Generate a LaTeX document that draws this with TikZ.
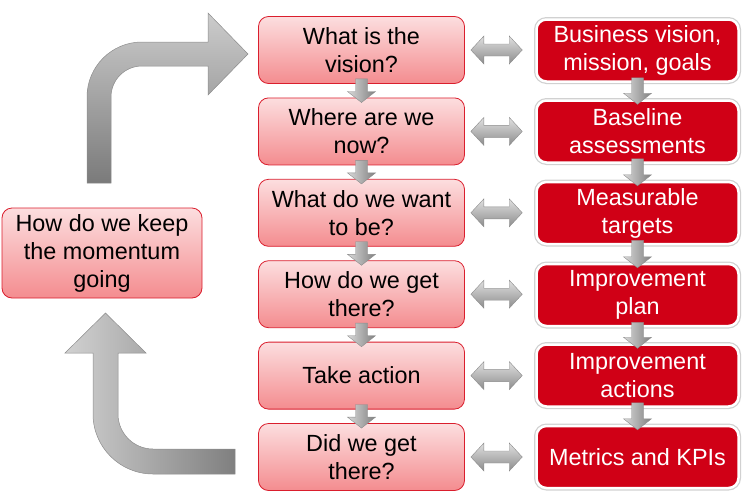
\documentclass[tikz,border=0pt]{standalone}
\usepackage{fontspec}
\setmainfont{Liberation Sans}
\usetikzlibrary{calc}
\definecolor{pinktop}{RGB}{252,222,223}
\definecolor{pinkbot}{RGB}{244,140,143}
\definecolor{pinkborder}{RGB}{218,30,45}
\definecolor{redfill}{RGB}{208,0,22}
\newcommand{\boxfont}{\fontsize{23.4}{28}\selectfont}
\tikzset{
  pinkbox/.style={rectangle, rounded corners=10pt, draw=pinkborder, line width=0.8pt,
    top color=pinktop, bottom color=pinkbot, minimum width=206pt, minimum height=67pt,
    align=center, inner sep=2pt, font=\boxfont, text=black},
  redbox/.style={rectangle, rounded corners=10pt, fill=redfill, draw=white, line width=2.5pt,
    preaction={draw=black!18, line width=5pt}, text=white, minimum width=202pt,
    minimum height=62pt, align=center, inner sep=2pt, font=\boxfont},
  vconnstyle/.style={left color=black!15, right color=black!50, draw=black!45, line width=0.4pt},
  hconnstyle/.style={top color=black!12, bottom color=black!45, draw=black!45, line width=0.4pt},
  bigarrowv/.style={top color=black!20, bottom color=black!52, draw=black!45, line width=0.5pt},
  bigarrowh/.style={left color=black!18, right color=black!50, draw=black!45, line width=0.5pt}
}
\newcommand{\vconn}[2]{%
  \path[vconnstyle] let \p1=($(#1.south)+(0,-5)$), \p2=($(#2.north)+(0,5)$) in
    (\x1-6pt,\y1) -- (\x1+6pt,\y1) -- (\x1+6pt,\y2+11pt) -- (\x1+14pt,\y2+11pt)
    -- (\x1,\y2) -- (\x1-14pt,\y2+11pt) -- (\x1-6pt,\y2+11pt) -- cycle;}
\newcommand{\hconn}[2]{%
  \path[hconnstyle] let \p1=($(#1.east)+(6,0)$), \p2=($(#2.west)+(-13,0)$) in
    (\x1,\y1) -- (\x1+13pt,\y1+14pt) -- (\x1+13pt,\y1+6pt) -- (\x2-13pt,\y1+6pt)
    -- (\x2-13pt,\y1+14pt) -- (\x2,\y1) -- (\x2-13pt,\y1-14pt) -- (\x2-13pt,\y1-6pt)
    -- (\x1+13pt,\y1-6pt) -- (\x1+13pt,\y1-14pt) -- cycle;}
\begin{document}
\begin{tikzpicture}[x=1pt,y=-1pt]
\useasboundingbox (0,0) rectangle (746,498);
% left question boxes
\node[pinkbox] (q1) at (361.5,50) {What is the\\vision?};
\node[pinkbox] (q2) at (361.5,131.4) {Where are we\\now?};
\node[pinkbox] (q3) at (361.5,212.8) {What do we want\\to be?};
\node[pinkbox] (q4) at (361.5,294.2) {How do we get\\there?};
\node[pinkbox] (q5) at (361.5,375.6) {Take action};
\node[pinkbox] (q6) at (361.5,457) {Did we get\\there?};
% right answer boxes
\node[redbox] (r1) at (637.5,50.5) {Business vision,\\mission, goals};
\node[redbox] (r2) at (637.5,131.5) {Baseline\\assessments};
\node[redbox] (r3) at (637.5,213) {Measurable\\targets};
\node[redbox] (r4) at (637.5,295) {Improvement\\plan};
\node[redbox] (r5) at (637.5,375.5) {Improvement\\actions};
\node[redbox] (r6) at (637.5,457) {Metrics and KPIs};
% momentum box
\node[pinkbox, minimum width=200pt, minimum height=90pt] (m) at (102,253) {How do we keep\\the momentum\\going};
% vertical connectors
\vconn{q1}{q2}\vconn{q2}{q3}\vconn{q3}{q4}\vconn{q4}{q5}\vconn{q5}{q6}
\vconn{r1}{r2}\vconn{r2}{r3}\vconn{r3}{r4}\vconn{r4}{r5}\vconn{r5}{r6}
% horizontal double connectors
\hconn{q1}{r1}\hconn{q2}{r2}\hconn{q3}{r3}\hconn{q4}{r4}\hconn{q5}{r5}\hconn{q6}{r6}
% upper curved arrow
\path[bigarrowv] (87,183) -- (87,97) .. controls (87,66.6) and (111.6,42) .. (142,42)
  -- (208,42) -- (208,13) -- (248,54) -- (208,95) -- (208,66) -- (142,66)
  .. controls (124.9,66) and (111,79.9) .. (111,97) -- (111,183) -- cycle;
% lower curved arrow
\path[bigarrowh] (235,449) -- (153,449) .. controls (133.7,449) and (118,433.3) .. (118,414)
  -- (118,353) -- (146,353) -- (105.5,313) -- (65,353) -- (93,353) -- (93,414)
  .. controls (93,447.1) and (119.9,474) .. (153,474) -- (235,474) -- cycle;
\end{tikzpicture}
\end{document}
